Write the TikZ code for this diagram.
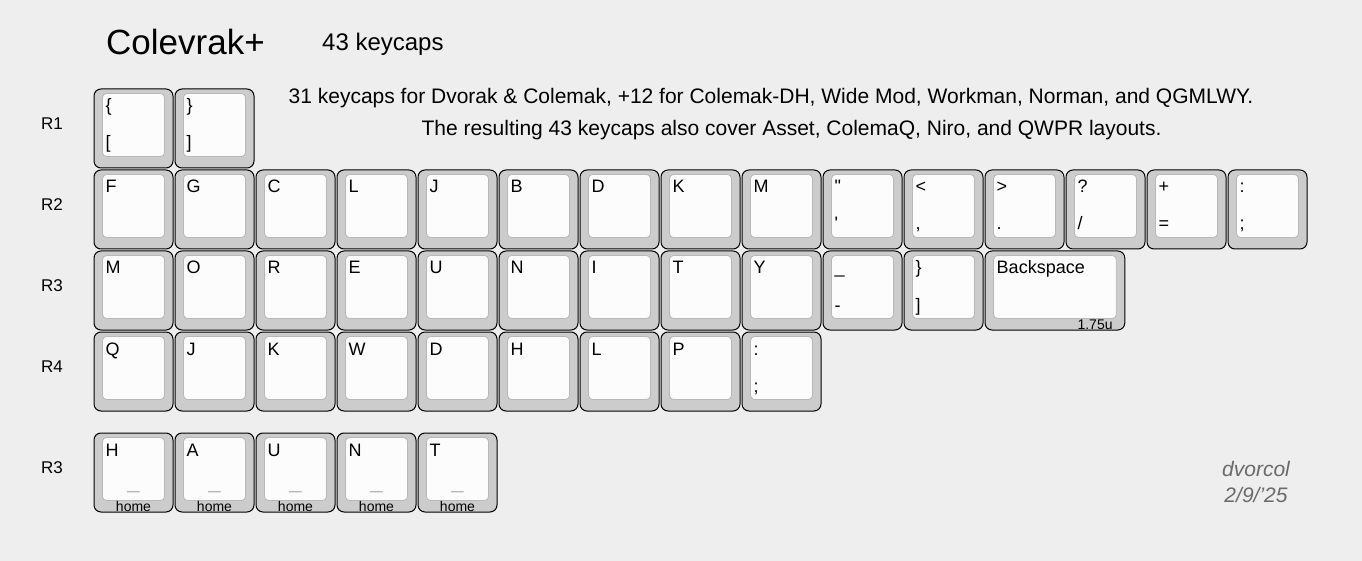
\documentclass[tikz,border=0pt]{standalone}
\usepackage{fontspec}
\setmainfont{Liberation Sans}
\definecolor{pagebg}{HTML}{EEEEEE}
\definecolor{keygray}{HTML}{CCCCCC}
\definecolor{capwhite}{HTML}{FCFCFC}
\definecolor{capedge}{HTML}{B8B8B8}
\definecolor{inkgray}{HTML}{6A6A6A}
\tikzset{
  keybody/.style={draw=black, line width=1pt, fill=keygray, rounded corners=7pt,
    minimum width=79pt, minimum height=79pt, inner sep=0pt},
  capface/.style={draw=capedge, line width=0.8pt, fill=capwhite, rounded corners=4pt},
  legend/.style={anchor=base west, inner sep=0pt, font=\fontsize{18}{21}\selectfont},
  rowlabel/.style={inner sep=0pt, font=\fontsize{17}{20}\selectfont},
  homemark/.style={anchor=base, inner sep=0pt, font=\fontsize{14}{16}\selectfont},
}
% one key: name, column, row centre, top legend, bottom legend
\newcommand{\keycap}[5]{%
  \node[keybody] (#1) at ({133.5+81*#2},#3) {};
  \draw[capface] ([shift={(9pt,-5pt)}]#1.north west) rectangle ([shift={(-9pt,12pt)}]#1.south east);
  \node[legend] (#1t) at ([shift={(12pt,-23.5pt)}]#1.north west) {#4};
  \node[legend] (#1b) at ([shift={(12pt,-60.5pt)}]#1.north west) {#5};
}
\begin{document}
\begin{tikzpicture}[x=1pt,y=-1pt]
  \fill[pagebg] (0,0) rectangle (1362,561);
  \useasboundingbox (0,0) rectangle (1362,561);
  % heading
  \node[anchor=base west, inner sep=0pt, font=\fontsize{35}{40}\selectfont] (title) at (106,55) {Colevrak+};
  \node[anchor=base west, inner sep=0pt, font=\fontsize{24}{28}\selectfont] (count) at (322,51) {43 keycaps};
  \node[anchor=base, inner sep=0pt, font=\fontsize{21}{25}\selectfont] (note1) at (771,104)
    {31 keycaps for Dvorak \& Colemak, +12 for Colemak-DH, Wide Mod, Workman, Norman, and QGMLWY.};
  \node[anchor=base, inner sep=0pt, font=\fontsize{21}{25}\selectfont] (note2) at (791.5,136)
    {The resulting 43 keycaps also cover Asset, ColemaQ, Niro, and QWPR layouts.};
  % row labels
  \node[rowlabel] (lab1) at (52,124) {R1};
  \node[rowlabel] (lab2) at (52,205) {R2};
  \node[rowlabel] (lab3) at (52,286) {R3};
  \node[rowlabel] (lab4) at (52,367) {R4};
  \node[rowlabel] (lab5) at (52,468) {R3};
  % R1
  \keycap{r1k0}{0}{128.5}{\{}{[}
  \keycap{r1k1}{1}{128.5}{\}}{]}
  % R2
  \foreach \t [count=\c from 0] in {F,G,C,L,J,B,D,K,M}
    {\keycap{r2k\c}{\c}{209.5}{\t}{}}
  \keycap{r2k9}{9}{209.5}{\textquotedbl}{\textquotesingle}
  \keycap{r2k10}{10}{209.5}{<}{,}
  \keycap{r2k11}{11}{209.5}{>}{.}
  \keycap{r2k12}{12}{209.5}{?}{/}
  \keycap{r2k13}{13}{209.5}{+}{=}
  \keycap{r2k14}{14}{209.5}{:}{;}
  % R3
  \foreach \t [count=\c from 0] in {M,O,R,E,U,N,I,T,Y}
    {\keycap{r3k\c}{\c}{290.5}{\t}{}}
  \keycap{r3k9}{9}{290.5}{\_}{-}
  \keycap{r3k10}{10}{290.5}{\}}{]}
  \node[keybody, minimum width=139.75pt] (bksp) at (1054.9,290.5) {};
  \draw[capface] ([shift={(9pt,-5pt)}]bksp.north west) rectangle ([shift={(-9pt,12pt)}]bksp.south east);
  \node[legend] (bkspt) at ([shift={(12pt,-23.5pt)}]bksp.north west) {Backspace};
  \node[anchor=base east, inner sep=0pt, font=\fontsize{14}{16}\selectfont] (bkspw)
    at ([shift={(-12.5pt,1pt)}]bksp.south east) {1.75u};
  % R4
  \foreach \t [count=\c from 0] in {Q,J,K,W,D,H,L,P}
    {\keycap{r4k\c}{\c}{371.5}{\t}{}}
  \keycap{r4k8}{8}{371.5}{:}{;}
  % home row
  \foreach \t [count=\c from 0] in {H,A,U,N,T} {
    \keycap{r5k\c}{\c}{472.5}{\t}{}
    \node[anchor=base, inner sep=0pt, text=capedge, font=\fontsize{22}{24}\selectfont] (r5k\c m)
      at ([yshift=-56pt]r5k\c.north) {\_};
    \node[homemark] (r5k\c h) at ([yshift=1pt]r5k\c.south) {home};
  }
  % signature
  \node[inner sep=0pt, text=inkgray, font=\itshape\fontsize{21}{24}\selectfont] (sign) at (1256,469) {dvorcol};
  \node[inner sep=0pt, text=inkgray, font=\itshape\fontsize{21}{24}\selectfont] (date) at (1256,495) {2/9/'25};
\end{tikzpicture}
\end{document}
